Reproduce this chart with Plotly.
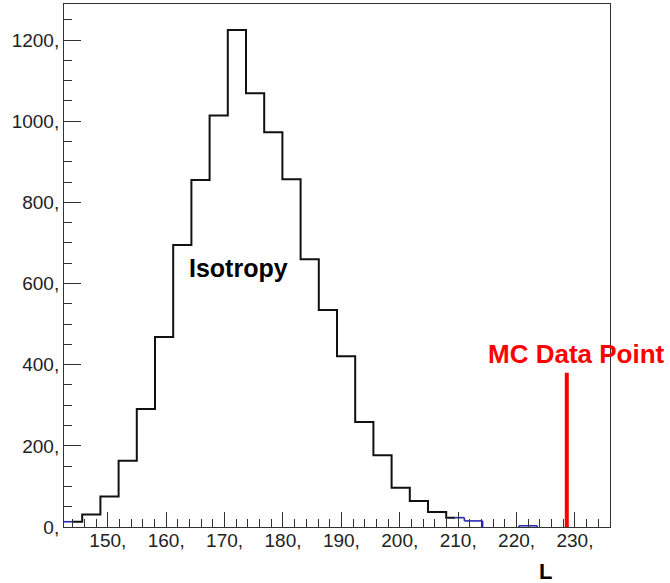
import numpy as np
import plotly.graph_objects as go

# ---- data ----
hist_lo = 142.5
hist_hi = 236.0
n_bins = 30
counts = [13, 31, 75, 163, 291, 468, 695, 855, 1014, 1225,
          1069, 973, 857, 660, 535, 421, 259, 177, 97, 64,
          37, 23, 15, 0, 0, 3, 0, 0, 0, 0]
black_lo = 144.0
black_hi = 209.5
mc_point = 228.6
mc_height = 380
x_major = [150, 160, 170, 180, 190, 200, 210, 220, 230]
x_labels = ["150,", "160,", "170,", "180,", "190,", "200,", "210,", "220,", "230,"]
y_major = [0, 200, 400, 600, 800, 1000, 1200]
y_labels = ["0,", "200,", "400,", "600,", "800,", "1000,", "1200,"]
y_max = 1289

edges = np.linspace(hist_lo, hist_hi, n_bins + 1)
counts = np.array(counts, dtype=float)


def outside(x):
    return x < black_lo or x > black_hi


# blue: histogram parts outside the black range, non-empty bins only
bx, by = [], []
for i in range(n_bins):
    c = counts[i]
    if c <= 0:
        continue
    lo, hi = edges[i], edges[i + 1]
    segs = []
    if lo < black_lo:
        segs.append((lo, min(hi, black_lo)))
    if hi > black_hi:
        segs.append((max(lo, black_hi), hi))
    for a, b in segs:
        bx += [a, b, None]; by += [c, c, None]
    # vertical edges
    if i > 0 and counts[i - 1] <= 0 and outside(lo):
        bx += [lo, lo, None]; by += [0, c, None]
    nxt = counts[i + 1] if i < n_bins - 1 else 0
    if nxt <= 0 and outside(hi):
        bx += [hi, hi, None]; by += [c, 0, None]
    elif outside(hi):
        bx += [hi, hi, None]; by += [c, nxt, None]

# black: histogram clipped to [black_lo, black_hi]
kx, ky = [], []
for i in range(n_bins):
    lo, hi = max(edges[i], black_lo), min(edges[i + 1], black_hi)
    if hi <= lo:
        continue
    kx += [lo, hi]; ky += [counts[i], counts[i]]

fig = go.Figure()
fig.add_trace(go.Scatter(x=bx, y=by, mode="lines", line=dict(color="#2a2ab4", width=1.6),
                         hoverinfo="skip", showlegend=False, connectgaps=False))
fig.add_trace(go.Scatter(x=kx, y=ky, mode="lines", line=dict(color="#111111", width=2),
                         hoverinfo="skip", showlegend=False))
fig.add_trace(go.Scatter(x=[mc_point, mc_point], y=[0, mc_height], mode="lines",
                         line=dict(color="#ff0000", width=4), hoverinfo="skip", showlegend=False))

fig.add_annotation(x=172.3, y=638, text="<b>Isotropy</b>", showarrow=False, xref="x", yref="y",
                   xanchor="center", yanchor="middle",
                   font=dict(family="Liberation Sans, Arial", size=25, color="#000000"))
fig.add_annotation(x=230.2, y=426, text="<b>MC Data Point</b>", showarrow=False, xref="x", yref="y",
                   xanchor="center", yanchor="middle",
                   font=dict(family="Liberation Sans, Arial", size=26, color="#ff0000"))
fig.add_annotation(x=225.0, y=-0.086, text="<b>L</b>", showarrow=False, xref="x", yref="paper",
                   xanchor="center", yanchor="middle",
                   font=dict(family="Liberation Sans, Arial", size=22, color="#000000"))

fig.update_xaxes(range=[hist_lo, hist_hi], showgrid=False, zeroline=False,
                 showline=True, mirror=True, linecolor="#333333", linewidth=1,
                 tickmode="array", tickvals=x_major, ticktext=x_labels,
                 ticks="inside", ticklen=15, tickwidth=1, tickcolor="#333333",
                 ticklabelstandoff=-4,
                 minor=dict(tickmode="linear", tick0=0, dtick=2, ticks="inside", ticklen=8,
                            tickwidth=1, tickcolor="#333333", showgrid=False),
                 tickfont=dict(family="Liberation Sans, Arial", size=19, color="#222222"))
fig.update_yaxes(range=[0, y_max], showgrid=False, zeroline=False,
                 showline=True, mirror=True, linecolor="#333333", linewidth=1,
                 tickmode="array", tickvals=y_major, ticktext=y_labels,
                 ticks="inside", ticklen=17, tickwidth=1, tickcolor="#333333",
                 minor=dict(tickmode="linear", tick0=0, dtick=50, ticks="inside", ticklen=8,
                            tickwidth=1, tickcolor="#333333", showgrid=False),
                 tickfont=dict(family="Liberation Sans, Arial", size=19, color="#222222"))

fig.update_layout(width=670, height=583, margin=dict(l=64, r=60, t=4, b=56),
                  paper_bgcolor="white", plot_bgcolor="white")

fig.write_html("out.html")
